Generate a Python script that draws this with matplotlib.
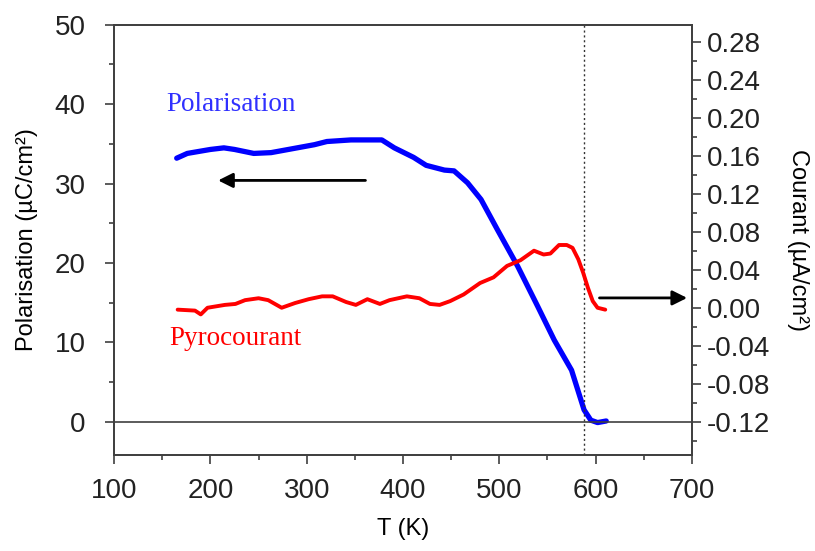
import matplotlib
matplotlib.use("Agg")
import matplotlib.pyplot as plt
from matplotlib.ticker import MultipleLocator

plt.rcParams["font.family"] = ["Liberation Sans", "DejaVu Sans"]

# Polarisation (µC/cm²) vs T (K)
pol_T = [165, 176, 200, 214, 225, 245, 263, 290, 308, 321, 346, 378, 391, 411,
         424, 443, 453, 467, 481, 498, 519, 540, 557, 575, 588, 595, 602, 611]
pol_P = [33.2, 33.8, 34.3, 34.5, 34.3, 33.8, 33.9, 34.5, 34.9, 35.3, 35.5, 35.5,
         34.5, 33.3, 32.3, 31.7, 31.6, 30.1, 28.0, 24.2, 19.6, 14.5, 10.3, 6.5,
         1.5, 0.2, -0.1, 0.1]

# Pyrocourant (µA/cm²) vs T (K)
pyro_T = [166, 184, 190, 197, 215, 226, 236, 250, 260, 274, 288, 302, 316, 327,
          341, 351, 363, 376, 386, 404, 417, 428, 438, 449, 463, 480, 494, 508,
          522, 536, 546, 553, 562, 570, 576, 582, 587, 592, 597, 602, 610]
pyro_I = [-0.002, -0.003, -0.007, 0.000, 0.003, 0.004, 0.008, 0.010, 0.008,
          0.000, 0.005, 0.009, 0.012, 0.012, 0.006, 0.003, 0.009, 0.004, 0.008,
          0.012, 0.010, 0.004, 0.003, 0.007, 0.014, 0.026, 0.032, 0.044, 0.050,
          0.060, 0.056, 0.057, 0.066, 0.066, 0.063, 0.051, 0.037, 0.021, 0.007,
          0.000, -0.002]

T_c = 588

fig = plt.figure(figsize=(8.15, 5.51), dpi=100)
ax = fig.add_axes([0.140, 0.174, 0.709, 0.781])
ax2 = ax.twinx()

ax.plot(pol_T, pol_P, color="#0000ff", lw=3.8, solid_capstyle="round")
ax2.plot(pyro_T, pyro_I, color="#ff0000", lw=2.8, solid_capstyle="round")

ax.axhline(0, color="#404040", lw=1.2)
ax.axvline(T_c, color="#333333", lw=1.0, ls=(0, (1.5, 2)))

ax.set_xlim(100, 700)
ax.set_ylim(-4.2, 50)
ax2.set_ylim(-0.155, 0.2976)

ax.xaxis.set_major_locator(MultipleLocator(100))
ax.xaxis.set_minor_locator(MultipleLocator(50))
ax.yaxis.set_major_locator(MultipleLocator(10))
ax.yaxis.set_minor_locator(MultipleLocator(5))
ax2.set_yticks([-0.12 + 0.04 * i for i in range(11)])
ax2.yaxis.set_minor_locator(MultipleLocator(0.02))
ax2.yaxis.set_major_formatter(plt.FuncFormatter(lambda v, p: f"{v:.2f}"))

for a in (ax, ax2):
    for s in a.spines.values():
        s.set_color("#404040")
        s.set_linewidth(1.3)
    a.tick_params(which="major", direction="out", length=6.5, width=1.2,
                  color="#404040", labelsize=20, labelcolor="#222222")
    a.tick_params(which="minor", direction="out", length=3.6, width=1.2,
                  color="#404040")
ax.tick_params(axis="y", pad=14)
ax.tick_params(axis="x", pad=10)
ax2.tick_params(axis="y", pad=4)

ax.set_xlabel("T (K)", fontsize=17, labelpad=10)
ax.set_ylabel("Polarisation (µC/cm²)", fontsize=17, labelpad=12)
ax2.set_ylabel("Courant (µA/cm²)", fontsize=17, rotation=270, labelpad=28)

ax.text(154, 39.9, "Polarisation", color="#3030ff", fontsize=19.5,
        family="Liberation Serif", va="center")
ax.text(157, 10.5, "Pyrocourant", color="#ff0000", fontsize=19.5,
        family="Liberation Serif", va="center")

ax.annotate("", xy=(208, 30.4), xytext=(361, 30.4),
            arrowprops=dict(arrowstyle="-|>", color="black", lw=2,
                            mutation_scale=22, shrinkA=0, shrinkB=0))
ax.annotate("", xy=(695, 15.6), xytext=(604, 15.6),
            arrowprops=dict(arrowstyle="-|>", color="black", lw=2,
                            mutation_scale=22, shrinkA=0, shrinkB=0))

fig.savefig("out.png", dpi=100, facecolor="white")
